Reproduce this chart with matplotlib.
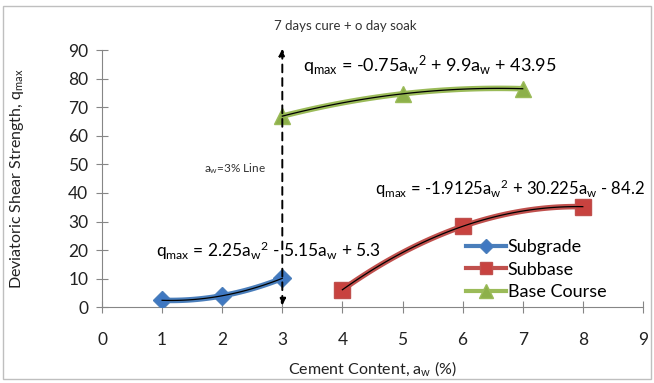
import numpy as np
import matplotlib
matplotlib.use("Agg")
import matplotlib.pyplot as plt
from matplotlib.lines import Line2D

plt.rcParams['font.family'] = ['Lato', 'DejaVu Sans']
plt.rcParams['mathtext.fontset'] = 'custom'
plt.rcParams['mathtext.rm'] = 'Lato'
plt.rcParams['mathtext.it'] = 'Lato:italic'

# Cement content (%) and deviatoric shear strength q_max
subgrade_x = [1, 2, 3]
subgrade_y = [2.4, 4.0, 10.1]
subbase_x = [4, 6, 8]
subbase_y = [6.1, 28.3, 35.2]
base_x = [3, 5, 7]
base_y = [66.9, 74.7, 76.5]

# Quadratic trendline coefficients (a2, a1, a0)
subgrade_fit = [2.25, -5.15, 5.3]
subbase_fit = [-1.9125, 30.225, -84.2]
base_fit = [-0.75, 9.9, 43.95]

x_ticks = list(range(0, 10))
y_ticks = list(range(0, 100, 10))

blue = '#4A7EBB'
red = '#C0504D'
green = '#9BBB59'

fig = plt.figure(figsize=(6.54, 3.83), dpi=100)
fig.patches.append(plt.Rectangle((0.004, 0.01), 0.992, 0.975, transform=fig.transFigure,
                                 fill=False, edgecolor='#BFBFBF', lw=1))
ax = fig.add_axes([0.156, 0.198, 0.827, 0.671])

series = [
    (subgrade_x, subgrade_y, subgrade_fit, blue, 'D', 9, 'Subgrade', '#3F78C2'),
    (subbase_x, subbase_y, subbase_fit, red, 's', 11, 'Subbase', '#C8423F'),
    (base_x, base_y, base_fit, green, '^', 12, 'Base Course', '#8DB04A'),
]
handles = []
for xs, ys, fit, col, mk, ms, name, mcol in series:
    xx = np.linspace(xs[0], xs[-1], 100)
    yy = np.polyval(fit, xx)
    ax.plot(xx, yy, color=col, lw=4, solid_capstyle='round', zorder=3)
    ax.plot(xs, ys, linestyle='none', marker=mk, markersize=ms, color=mcol,
            markeredgecolor=col, zorder=4)
    ax.plot(xx, yy, color='black', lw=0.9, zorder=5)
    handles.append(Line2D([0], [0], color=col, lw=3, marker=mk, markersize=ms * 0.8,
                          markerfacecolor=mcol, markeredgecolor=col, label=name))

# a_w = 3% reference line
ax.annotate('', xy=(3, 0.6), xytext=(3, 90.5),
            arrowprops=dict(arrowstyle='<|-|>', linestyle=(0, (4, 3)), lw=1.4,
                            color='black', mutation_scale=10, shrinkA=0, shrinkB=0),
            annotation_clip=False, zorder=6)
ax.text(2.73, 48.5, r'a$_{\rm w}$=3% Line', fontsize=8.5, ha='right', va='center',
        color='#333333')
ax.text(2.87, 98.5, '7 days cure + o day soak', fontsize=9.5, ha='left', va='center',
        color='#333333', clip_on=False)

eq_kw = dict(color='black', va='center', ha='left', clip_on=False)
ax.text(3.35, 84.5, r'q$_{\rm max}$ = -0.75a$_{\rm w}$$^{2}$ + 9.9a$_{\rm w}$ + 43.95',
        fontsize=13, **eq_kw)
ax.text(4.55, 41.5, r'q$_{\rm max}$ = -1.9125a$_{\rm w}$$^{2}$ + 30.225a$_{\rm w}$ - 84.2',
        fontsize=12, **eq_kw)
ax.text(0.9, 19.8, r'q$_{\rm max}$ = 2.25a$_{\rm w}$$^{2}$ - 5.15a$_{\rm w}$ + 5.3',
        fontsize=12.5, **eq_kw)

ax.set_xlim(0, 9)
ax.set_ylim(0, 90)
ax.set_xticks(x_ticks)
ax.set_yticks(y_ticks)
for s in ['top', 'right']:
    ax.spines[s].set_visible(False)
for s in ['left', 'bottom']:
    ax.spines[s].set_color('#868686')
ax.tick_params(axis='both', direction='inout', length=8, color='#868686',
               labelsize=12.5, labelcolor='#222222')
ax.tick_params(axis='x', pad=14)
ax.tick_params(axis='y', pad=6)
ax.set_xlabel(r'Cement Content, a$_{\rm w}$ (%)', fontsize=11.5, color='#222222', labelpad=8)
ax.set_ylabel(r'Deviatoric Shear Strength, q$_{\rm max}$', fontsize=11.5, color='#222222',
              labelpad=30)

leg = ax.legend(handles=handles, loc='lower left', bbox_to_anchor=(0.66, 0.0),
                frameon=False, fontsize=13, handlelength=2.2, handletextpad=0.1,
                labelspacing=0.35, borderaxespad=0)

fig.savefig('out.png', dpi=100)
